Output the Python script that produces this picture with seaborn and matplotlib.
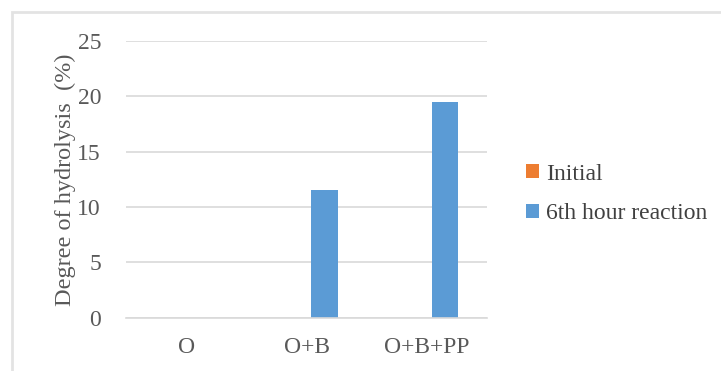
import matplotlib
matplotlib.use("Agg")
import matplotlib.pyplot as plt
import seaborn as sns
import pandas as pd
from matplotlib.patches import Rectangle, Patch
from matplotlib.font_manager import FontProperties

categories = ["O", "O+B", "O+B+PP"]
initial = [0, 0, 0]
sixth_hour = [0, 11.5, 19.5]
series_names = ["Initial", "6th hour reaction"]
yticks = [0, 5, 10, 15, 20, 25]
colors = ["#ED7D31", "#5B9BD5"]

df = pd.DataFrame({
    "cat": categories * 2,
    "series": [series_names[0]] * 3 + [series_names[1]] * 3,
    "value": initial + sixth_hour,
})

sns.set_style("white")
FAM = "Liberation Serif"
plt.rcParams["font.family"] = [FAM, "DejaVu Serif"]

fig = plt.figure(figsize=(7.21, 3.71), dpi=100)
ax = fig.add_axes([0.1748, 0.1437, 0.6755 - 0.1748, 0.8895 - 0.1437])

sns.barplot(data=df, x="cat", y="value", hue="series", palette=colors,
            width=0.6, gap=0.26, ax=ax, legend=False, saturation=1,
            edgecolor="none")

ax.set_ylim(0, 25)
ax.set_yticks(yticks)
ax.yaxis.grid(True, color="#D9D9D9", linewidth=1.2)
ax.set_axisbelow(True)
for s in ["top", "right", "left"]:
    ax.spines[s].set_visible(False)
ax.spines["bottom"].set_color("#D9D9D9")
ax.spines["bottom"].set_linewidth(1.2)
ax.tick_params(axis="both", length=0, colors="#595959")
ax.tick_params(axis="y", pad=18)
ax.tick_params(axis="x", pad=14)
for lab in ax.get_xticklabels() + ax.get_yticklabels():
    lab.set_family(FAM)
    lab.set_fontsize(17)
ax.set_xlabel("")
ax.set_ylabel("Degree of hydrolysis  (%)", fontsize=17.5, color="#595959",
              labelpad=1, family=FAM)

handles = [Patch(facecolor=c, edgecolor="none") for c in colors]
leg = fig.legend(handles, series_names, loc="center left",
                 bbox_to_anchor=(0.7, 0.477), frameon=False,
                 prop=FontProperties(family=FAM, size=17),
                 labelcolor="#404040", handlelength=0.55,
                 handleheight=0.55, handletextpad=0.3, labelspacing=0.8)

fig.patches.append(Rectangle((12 / 721, -0.1), 1.2, 1 - 12 / 371 + 0.1,
                             transform=fig.transFigure, fill=False,
                             edgecolor="#E3E3E3", linewidth=2))

fig.savefig("out.png", dpi=100)
